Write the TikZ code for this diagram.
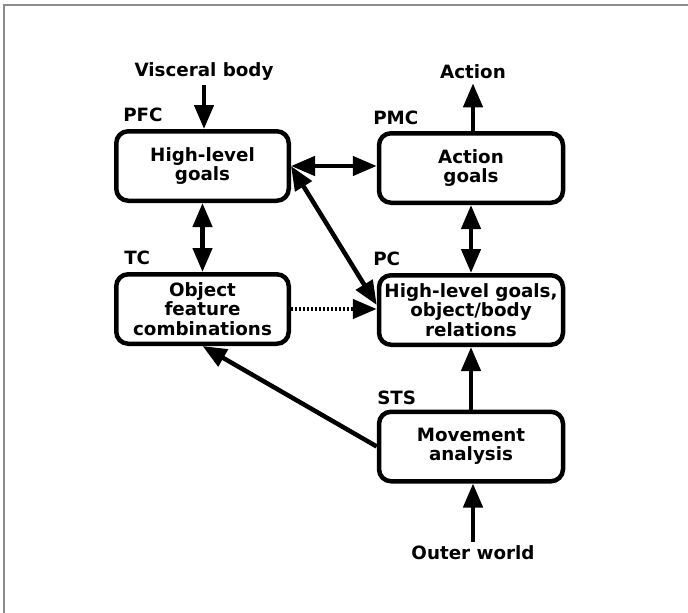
\documentclass[tikz,border=0pt]{standalone}
\usepackage{fontspec}
\setmainfont{DejaVu Sans}
\usetikzlibrary{arrows.meta}

\begin{document}
\begin{tikzpicture}[x=1pt,y=-1pt,line width=4.5pt,>={Triangle[length=24pt,width=19pt]}]
    \tikzstyle{box}=[draw,rounded corners=12pt,align=center,inner sep=0pt,minimum height=69.5pt,font=\fontsize{18.3}{19.5}\selectfont\bfseries]
    \tikzstyle{area}=[anchor=base west,inner sep=0pt,font=\fontsize{18.3}{19.5}\selectfont\bfseries]
    \tikzstyle{io}=[inner sep=2pt,font=\fontsize{18.3}{19.5}\selectfont\bfseries]

\useasboundingbox (0,0) rectangle (688,613);
\draw[line width=1.5pt,black!45] (4,613) -- (4,5) -- (688,5);

\node[box,minimum width=172.5pt] (pfc) at (202.5,166) {High-level\\goals};
\node[box,minimum width=184pt] (pmc) at (471,168) {Action\\goals};
\node[box,minimum width=172.5pt] (tc) at (202.5,309) {Object\\feature\\combinations};
\node[box,minimum width=184pt] (pc) at (471,310) {High-level goals,\\object/body\\relations};
\node[box,minimum width=184pt] (sts) at (471,446.5) {Movement\\analysis};

\node[area] (pfcl) at (121,121) {PFC};
\node[area] (pmcl) at (371,124) {PMC};
\node[area] (tcl) at (122,264) {TC};
\node[area] (pcl) at (371,265) {PC};
\node[area] (stsl) at (375,404) {STS};

\node[io] (body) at (204,72) {Visceral body};
\node[io] (act) at (473,72) {Action};
\node[io] (world) at (473,553) {Outer world};

\draw[->] (body) -- (pfc.north -| body);
\draw[->] (pmc.north -| act) -- (act);
\draw[<->] (pfc.east) -- (pmc.west |- pfc.east);
\draw[<->] (pfc) -- (tc);
\draw[<->] (pmc) -- (pc);
\draw[<->] (pfc.east) -- ([yshift=5pt]pc.west);
\draw[->,dash pattern=on 2pt off 2pt] (tc.east) -- (pc.west |- tc.east);
\draw[->] (sts.west) -- (tc.south);
\draw[->] (sts) -- (pc);
\draw[->] (world) -- (sts.south -| world);
\end{tikzpicture}
\end{document}
